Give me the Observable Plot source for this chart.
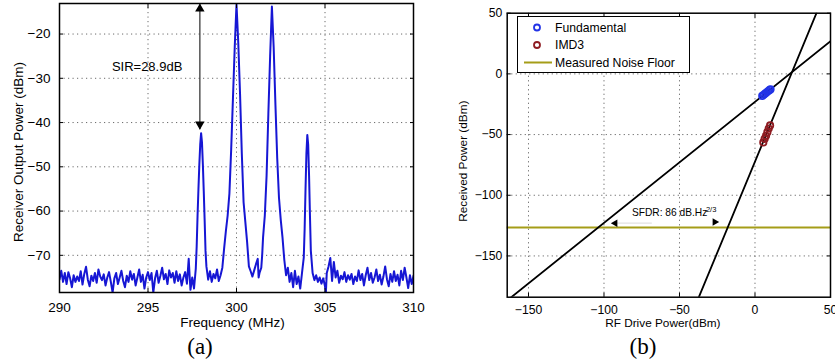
<!DOCTYPE html>
<html>
<head>
<meta charset="utf-8">
<script src="https://cdn.jsdelivr.net/npm/d3@7"></script>
<script src="https://cdn.jsdelivr.net/npm/@observablehq/plot@0.6"></script>
<style>
  html, body { margin: 0; padding: 0; background: #fff; }
  #wrap { position: relative; width: 835px; height: 362px; overflow: hidden; background: #fff;
          font-family: "Liberation Sans", Arial, sans-serif; }
  .panel { position: absolute; top: 0; }
  .cap { position: absolute; top: 347px; transform: translate(-50%, -50%);
         font-family: "Liberation Serif", "Times New Roman", serif; font-size: 23px; color: #000; }
  #legend { position: absolute; left: 517px; top: 16px; width: 173px; height: 57px;
            box-sizing: border-box; border: 1.5px solid #000; background: #fff; }
  #legend svg { display: block; }
</style>
</head>
<body>
<div id="wrap">
  <div id="pa" class="panel" style="left:0px;"></div>
  <div id="pb" class="panel" style="left:420px;"></div>
  <div id="legend"></div>
  <div class="cap" style="left:200px;">(a)</div>
  <div class="cap" style="left:643px;">(b)</div>
</div>
<script>
// ---------------- Panel (a): spectrum ----------------
const freqMHz = [
  290.0,290.1,290.2,290.3,290.4,290.5,290.6,290.7,290.8,290.9,
  291.0,291.1,291.2,291.3,291.4,291.5,291.6,291.7,291.8,291.9,
  292.0,292.1,292.2,292.3,292.4,292.5,292.6,292.7,292.8,292.9,
  293.0,293.1,293.2,293.3,293.4,293.5,293.6,293.7,293.8,293.9,
  294.0,294.1,294.2,294.3,294.4,294.5,294.6,294.7,294.8,294.9,
  295.0,295.1,295.2,295.3,295.4,295.5,295.6,295.7,295.8,295.9,
  296.0,296.1,296.2,296.3,296.4,296.5,296.6,296.7,296.8,296.9,
  297.0,297.1,297.2,297.3,297.35,297.4,297.5,297.6,297.7,297.75,
  297.8,297.85,297.9,297.95,298.0,298.05,298.1,298.15,298.2,298.25,
  298.3,298.4,298.5,298.6,298.7,298.8,298.9,299.0,299.1,299.2,
  299.3,299.4,299.5,299.6,299.7,299.8,299.9,300.0,300.1,300.2,
  300.3,300.4,300.5,300.6,300.7,300.8,300.9,301.0,301.1,301.2,
  301.25,301.3,301.4,301.45,301.5,301.6,301.7,301.8,301.9,302.0,
  302.1,302.2,302.3,302.4,302.5,302.6,302.7,302.8,302.9,303.0,
  303.1,303.2,303.3,303.4,303.5,303.6,303.7,303.8,303.85,303.9,
  303.95,304.0,304.05,304.1,304.15,304.2,304.3,304.4,304.5,304.6,
  304.7,304.8,304.9,305.0,305.05,305.1,305.2,305.3,305.4,305.5,
  305.6,305.7,305.8,305.9,306.0,306.1,306.2,306.3,306.4,306.5,
  306.6,306.7,306.8,306.9,307.0,307.1,307.2,307.3,307.4,307.5,
  307.6,307.7,307.8,307.9,308.0,308.1,308.2,308.3,308.4,308.5,
  308.6,308.7,308.8,308.9,309.0,309.1,309.2,309.3,309.4,309.5,
  309.6,309.7,309.8,309.9,310.0
];
const powerDbm = [
  -75.5,-73.5,-76.0,-74.0,-76.5,-73.8,-75.2,-77.2,-74.5,-76.0,
  -74.8,-75.8,-73.6,-76.6,-74.2,-72.6,-75.5,-77.0,-74.6,-75.8,
  -74.0,-76.2,-73.2,-74.8,-75.6,-74.3,-76.8,-75.0,-73.8,-76.0,
  -78.4,-75.2,-74.0,-76.5,-75.0,-73.5,-75.8,-77.2,-74.6,-76.0,
  -73.6,-75.5,-74.2,-76.8,-75.0,-73.2,-76.0,-74.4,-77.5,-75.0,
  -73.8,-75.6,-74.0,-78.4,-75.2,-73.5,-76.2,-74.6,-72.8,-75.4,
  -74.2,-76.5,-73.4,-75.0,-74.0,-76.2,-73.6,-75.8,-74.3,-76.8,
  -75.0,-73.8,-76.4,-70.8,-74.5,-77.8,-75.0,-77.5,-73.0,-68.0,
  -61.0,-55.0,-49.5,-45.0,-42.4,-44.5,-49.5,-55.5,-62.0,-69.0,
  -72.5,-75.5,-73.6,-76.0,-74.2,-75.2,-73.2,-75.8,-74.5,-72.8,
  -68.5,-64.5,-61.0,-56.0,-46.0,-34.5,-23.0,-13.3,-22.0,-33.5,
  -47.0,-58.0,-62.5,-67.0,-72.5,-73.6,-74.8,-73.4,-72.0,-70.8,
  -75.0,-74.0,-72.8,-70.0,-66.0,-61.0,-52.0,-38.0,-25.0,-13.8,
  -23.0,-36.0,-48.0,-57.0,-62.0,-66.0,-71.0,-74.5,-72.8,-76.0,
  -74.0,-77.2,-73.5,-76.5,-74.8,-77.5,-74.0,-70.5,-64.0,-55.0,
  -47.0,-42.8,-45.0,-52.0,-61.0,-69.0,-74.0,-75.6,-74.5,-76.0,
  -75.0,-76.4,-75.2,-77.0,-78.4,-74.0,-72.5,-70.6,-75.8,-71.5,
  -75.0,-73.5,-76.2,-74.6,-75.4,-73.8,-76.0,-74.5,-75.5,-74.2,
  -76.5,-74.8,-75.8,-73.4,-75.6,-74.2,-76.8,-74.5,-72.8,-75.6,
  -74.0,-76.2,-75.0,-73.2,-75.8,-74.4,-76.6,-74.8,-72.5,-75.4,
  -77.0,-74.2,-76.0,-73.6,-75.8,-74.4,-76.8,-73.5,-75.6,-72.8,
  -75.0,-77.4,-74.5,-76.5,-74.6
];
const xTicksA = [290, 295, 300, 305, 310];
const yTicksA = [-70, -60, -50, -40, -30, -20];
const xDomainA = [290, 310];
const yDomainA = [-78.4, -13.1];
const sirLabel = "SIR=28.9dB";
const sirLabelPos = [294.95, -27.4];
const sirArrowX = 297.93;
const sirArrowTop = -13.1;
const sirArrowBottom = -41.6;

// ---------------- Panel (b): SFDR ----------------
const fundX = [4.8, 5.8, 6.8, 7.8, 8.8, 9.8, 10.3];
const fundY = [-18.2, -17.2, -16.2, -15.2, -14.2, -13.2, -12.7];
const imd3X = [5.5, 6.4, 7.3, 8.2, 9.1, 10.0];
const imd3Y = [-56.5, -53.5, -51.0, -48.0, -45.0, -42.5];
const fundFitX = [-161.4, 50];
const fundFitY = [-184, 26.9];
const imd3FitX = [-37.2, 40.7];
const imd3FitY = [-184, 50];
const noiseFloor = -126.5;
const xTicksB = [-150, -100, -50, 0, 50];
const yTicksB = [-150, -100, -50, 0, 50];
const xDomainB = [-164.1, 50];
const yDomainB = [-184, 50];
const sfdrLabel = "SFDR: 86 dB.Hz";
const sfdrSup = "2/3";
const sfdrLabelPos = [-81.5, -114.5];
const sfdrSupPos = [-32.5, -111.5];
const sfdrHeadX = [-92.6, -26.6];
const sfdrHeadY = [-123.0, -122.0];
const sfdrHeadRot = [-90, 90];
const sfdrShaftX = [-92.0, -68.0];
const legendLabels = ["Fundamental", "IMD3", "Measured Noise Floor"];

// ---------------- Colours & font ----------------
const FONT = '"Liberation Sans", Arial, sans-serif';
const BLUE = "#1616d4";
const CIRC_BLUE = "#2233e6";
const DARKRED = "#8e1c22";
const OLIVE = "#a59d18";
const GRID = {stroke: "#6a6a6a", strokeOpacity: 1, strokeWidth: 1, strokeDasharray: "1.2,3.3"};

const spectrum = freqMHz.map((f, i) => ({f, p: powerDbm[i]}));

const plotA = Plot.plot({
  width: 420, height: 335,
  marginLeft: 59, marginRight: 7, marginTop: 3, marginBottom: 43,
  style: {fontFamily: FONT, fontSize: "13.5px", color: "#000", background: "transparent", overflow: "visible"},
  x: {domain: xDomainA},
  y: {domain: yDomainA},
  marks: [
    Plot.gridX(xTicksA.slice(1, -1), GRID),
    Plot.gridY(yTicksA, GRID),
    Plot.line(spectrum, {x: "f", y: "p", stroke: BLUE, strokeWidth: 2, clip: true}),
    Plot.ruleX([{x: sirArrowX, y1: sirArrowTop, y2: sirArrowBottom}], {x: "x", y1: "y1", y2: "y2", stroke: "#3a3a3a", strokeWidth: 1.3}),
    Plot.dot([{x: sirArrowX, y: sirArrowTop}], {x: "x", y: "y", symbol: "triangle", r: 3.5, fill: "#000", stroke: "none", dy: 5.4}),
    Plot.dot([{x: sirArrowX, y: sirArrowBottom}], {x: "x", y: "y", symbol: "triangle", r: 3.5, fill: "#000", stroke: "none", rotate: 180, dy: -5.4}),
    Plot.text([{x: sirLabelPos[0], y: sirLabelPos[1], t: sirLabel}], {x: "x", y: "y", text: "t", fontSize: 13}),
    Plot.axisX(xTicksA, {anchor: "bottom", tickSize: -4, tickPadding: 14, label: null}),
    Plot.axisX(xTicksA, {anchor: "top", tickSize: -4, tickFormat: () => "", label: null}),
    Plot.axisY(yTicksA, {anchor: "left", tickSize: -4, tickPadding: 13, label: null}),
    Plot.axisY(yTicksA, {anchor: "right", tickSize: -4, tickFormat: () => "", label: null}),
    Plot.text(["Frequency (MHz)"], {frameAnchor: "bottom", lineAnchor: "middle", textAnchor: "middle", dy: 29.7, dx: -4, fontSize: 13.5}),
    Plot.text(["Receiver Output Power (dBm)"], {frameAnchor: "left", lineAnchor: "middle", textAnchor: "middle", rotate: -90, dx: -41, dy: 4, fontSize: 13.5}),
    Plot.frame({stroke: "#000", strokeWidth: 1.5})
  ]
});
document.getElementById("pa").appendChild(plotA);

const fundPts = fundX.map((x, i) => ({x, y: fundY[i]}));
const imdPts = imd3X.map((x, i) => ({x, y: imd3Y[i]}));
const fundFit = fundFitX.map((x, i) => ({x, y: fundFitY[i]}));
const imdFit = imd3FitX.map((x, i) => ({x, y: imd3FitY[i]}));
const heads = sfdrHeadX.map((x, i) => ({x, y: sfdrHeadY[i], r: sfdrHeadRot[i]}));

const plotB = Plot.plot({
  width: 415, height: 335,
  marginLeft: 86.7, marginRight: 5, marginTop: 12.7, marginBottom: 38.3,
  style: {fontFamily: FONT, fontSize: "12.2px", color: "#000", background: "transparent", overflow: "visible"},
  x: {domain: xDomainB},
  y: {domain: yDomainB},
  marks: [
    Plot.gridX(xTicksB.slice(0, -1), GRID),
    Plot.gridY(yTicksB.slice(0, -1), GRID),
    Plot.ruleY([noiseFloor], {stroke: OLIVE, strokeWidth: 2}),
    Plot.line(fundFit, {x: "x", y: "y", stroke: "#000", strokeWidth: 1.8, clip: true}),
    Plot.line(imdFit, {x: "x", y: "y", stroke: "#000", strokeWidth: 1.8, clip: true}),
    Plot.dot(fundPts, {x: "x", y: "y", r: 3.2, stroke: CIRC_BLUE, strokeWidth: 1.8, fill: "none"}),
    Plot.dot(imdPts, {x: "x", y: "y", r: 3.2, stroke: DARKRED, strokeWidth: 1.8, fill: "none"}),
    Plot.ruleY([{y: sfdrHeadY[0], x1: sfdrShaftX[0], x2: sfdrShaftX[1]}], {y: "y", x1: "x1", x2: "x2", stroke: "#e2e2e2", strokeWidth: 1.2}),
    Plot.dot(heads, {x: "x", y: "y", rotate: "r", symbol: "triangle", r: 2.8, fill: "#000", stroke: "none"}),
    Plot.text([{x: sfdrLabelPos[0], y: sfdrLabelPos[1], t: sfdrLabel}], {x: "x", y: "y", text: "t", textAnchor: "start", fontSize: 10.2}),
    Plot.text([{x: sfdrSupPos[0], y: sfdrSupPos[1], t: sfdrSup}], {x: "x", y: "y", text: "t", textAnchor: "start", fontSize: 7.5}),
    Plot.axisX(xTicksB, {anchor: "bottom", tickSize: -4, tickPadding: 12, label: null}),
    Plot.axisX(xTicksB, {anchor: "top", tickSize: -4, tickFormat: () => "", label: null}),
    Plot.axisY(yTicksB, {anchor: "left", tickSize: -4, tickPadding: 9, label: null}),
    Plot.axisY(yTicksB, {anchor: "right", tickSize: -4, tickFormat: () => "", label: null}),
    Plot.text(["RF Drive Power(dBm)"], {frameAnchor: "bottom", lineAnchor: "middle", textAnchor: "middle", dy: 25.6, dx: -6, fontSize: 11.8}),
    Plot.text(["Received Power (dBm)"], {frameAnchor: "left", lineAnchor: "middle", textAnchor: "middle", rotate: -90, dx: -44, dy: 6, fontSize: 11.8}),
    Plot.frame({stroke: "#000", strokeWidth: 1.5})
  ]
});
document.getElementById("pb").appendChild(plotB);

// ---------------- Legend (b) ----------------
(function () {
  const W = 170, H = 54;
  const svg = d3.create("svg").attr("width", W).attr("height", H)
    .style("font-family", FONT).style("font-size", "12.2px");
  const rows = [10.5, 28, 45.5];
  svg.append("circle").attr("cx", 19).attr("cy", rows[0]).attr("r", 3)
    .attr("fill", "none").attr("stroke", CIRC_BLUE).attr("stroke-width", 1.8);
  svg.append("circle").attr("cx", 19).attr("cy", rows[1]).attr("r", 3)
    .attr("fill", "none").attr("stroke", DARKRED).attr("stroke-width", 1.8);
  svg.append("line").attr("x1", 6).attr("x2", 34).attr("y1", rows[2]).attr("y2", rows[2])
    .attr("stroke", OLIVE).attr("stroke-width", 2);
  legendLabels.forEach((t, i) => {
    svg.append("text").attr("x", 37).attr("y", rows[i]).attr("dy", "0.35em").attr("fill", "#000").text(t);
  });
  document.getElementById("legend").appendChild(svg.node());
})();
</script>
</body>
</html>
